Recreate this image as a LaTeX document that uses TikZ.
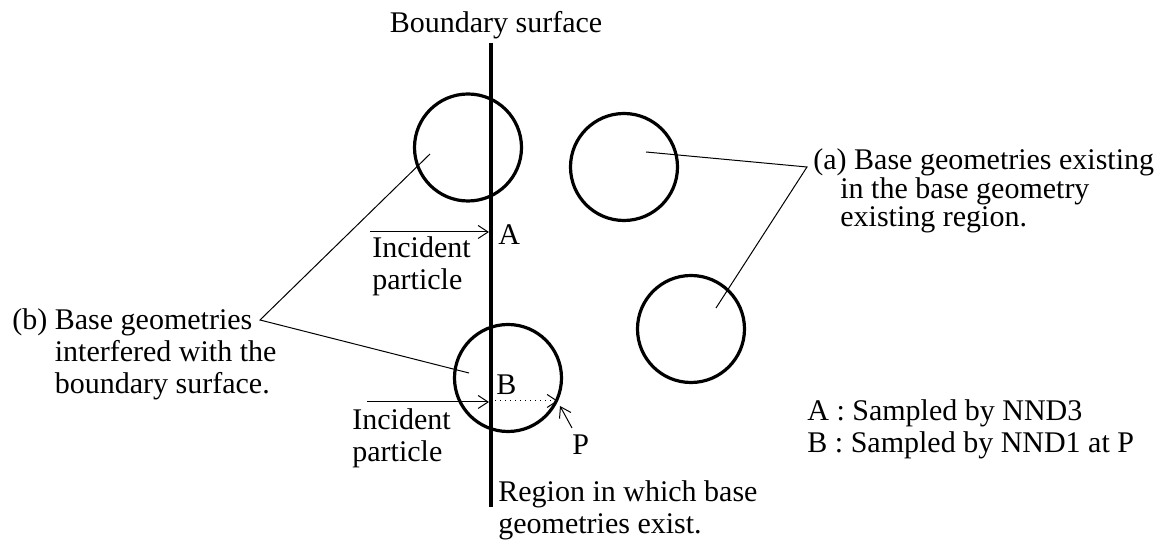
\documentclass[tikz,border=0pt]{standalone}
\usepackage{fontspec}
\setmainfont{Liberation Serif}
\usetikzlibrary{arrows.meta}

\begin{document}
\begin{tikzpicture}[x=0.5pt,y=-0.5pt,
      every node/.style={font=\fontsize{15}{16}\selectfont,inner sep=0pt},
      geo/.style={circle,draw,line width=1.6pt,minimum size=53.5pt},
      lead/.style={line width=0.5pt},
      arr/.style={line width=0.5pt,-{Straight Barb[length=5pt,width=6.5pt]}},
      txt/.style={anchor=base west,align=left}
    ]
      \useasboundingbox (0,0) rectangle (1174,544);
      % boundary
      \node[anchor=base] (title) at (496,33) {Boundary surface};
      \coordinate (btop) at (491,43);
      \coordinate (bbot) at (491,507);
      \draw[line width=2.2pt] (btop) -- (bbot);

      % base geometries
      \node[geo] (g1) at (468,147.5) {};
      \node[geo] (g2) at (624,167) {};
      \node[geo] (g3) at (508,378) {};
      \node[geo] (g4) at (691,329) {};

      % incident particles (base = last line)
      \coordinate (ina) at (370,232);
      \coordinate (hita) at (489,232);
      \draw[arr] (ina) -- (hita);
      \node[txt] (A) at (498,245) {A};
      \node[txt] (inctxt1) at (372,290) {Incident\\particle};

      \coordinate (inb) at (367,402);
      \coordinate (hitb) at (489,402);
      \draw[arr] (inb) -- (hitb);
      \node[txt] (B) at (496,395) {B};
      \node[txt] (inctxt2) at (352,462) {Incident\\particle};
      \coordinate (bstart) at (495,401);
      \coordinate (pedge) at (558,401);
      \draw[arr,dotted] (bstart) -- (pedge);
      \node[txt] (P) at (572,455) {P};
      \coordinate (ptail) at (572,428);
      \coordinate (ptip) at (560,406);
      \draw[arr] (ptail) -- (ptip);

      \node[txt] (region) at (498,534) {Region in which base\\geometries exist.};

      % (b) labels
      \node[txt] (btxt) at (12,394)
        {(b) Base geometries\\\phantom{(b) }interfered with the\\\phantom{(b) }boundary surface.};
      \coordinate (bjoin) at (260,320);
      \coordinate (b1) at (430,154);
      \coordinate (b2) at (469,373);
      \draw[lead] (b1) -- (bjoin) -- (b2);

      % (a) labels
      \node[txt,font=\fontsize{15}{13}\selectfont] (atxt) at (813,227)
        {(a) Base geometries existing\\\hspace{13.5pt}in the base geometry\\\hspace{13.5pt}existing region.};
      \coordinate (ajoin) at (807,167);
      \coordinate (a1) at (646,152);
      \coordinate (a2) at (716,308);
      \draw[lead] (a1) -- (ajoin) -- (a2);

      % legend
      \node[txt] (leg) at (807,453) {A : Sampled by NND3\\B : Sampled by NND1 at P};
\end{tikzpicture}
\end{document}
